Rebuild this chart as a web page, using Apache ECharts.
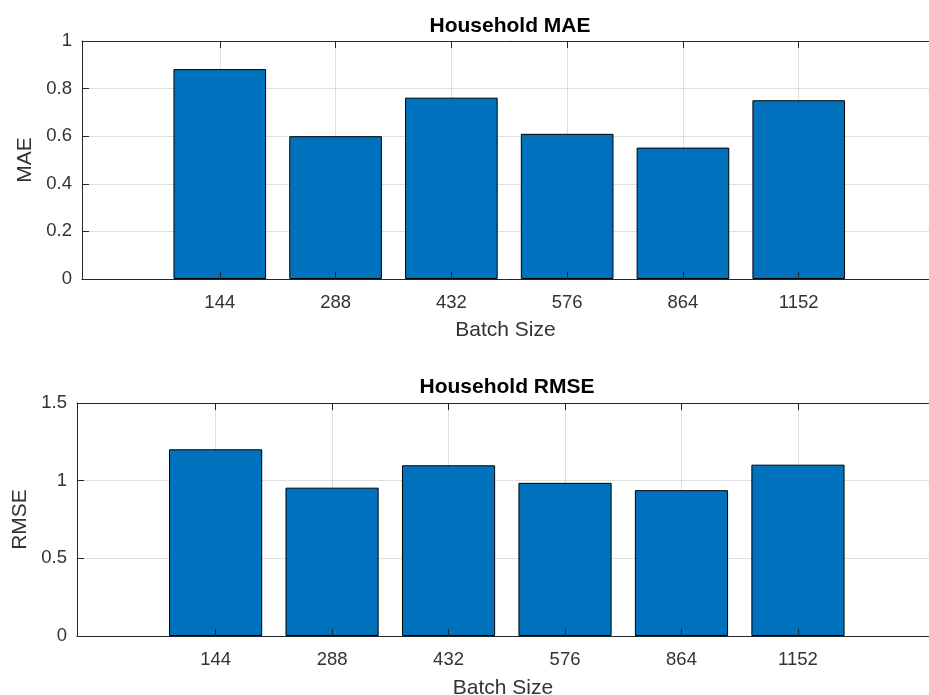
<!DOCTYPE html>
<html><head><meta charset="utf-8">
<script src="https://cdn.jsdelivr.net/npm/echarts@6/dist/echarts.min.js"></script>
<style>html,body{margin:0;padding:0;background:#fff}#c{width:929px;height:695px}</style>
</head><body><div id="c"></div>
<script>
// ---- data ----
const batchSizes = ['144', '288', '432', '576', '864', '1152'];
const barPositions = [1, 2, 3, 4, 5, 6];
const maeValues = [0.882, 0.600, 0.762, 0.610, 0.552, 0.751];
const rmseValues = [1.202, 0.955, 1.099, 0.986, 0.939, 1.103];
const maeAxis = { min: 0, max: 1, interval: 0.2 };
const rmseAxis = { min: 0, max: 1.5, interval: 0.5 };
const titles = ['Household MAE', 'Household RMSE'];
const yNames = ['MAE', 'RMSE'];
const xName = 'Batch Size';

// ---- style ----
const FONT = "'Liberation Sans', Arial, Helvetica, sans-serif";
const AXC = '#262626';
const TXC = '#333333';
const GRIDC = 'rgba(38,38,38,0.15)';
const XMIN = -0.19, XMAX = 7.125;

const chart = echarts.init(document.getElementById('c'), null, { renderer: 'canvas' });

function xAxesFor(gi, margin, gap) {
  const base = { type: 'value', gridIndex: gi, min: XMIN, max: XMAX };
  const lbl = v => batchSizes[barPositions.indexOf(v)];
  return [
    Object.assign({}, base, {
      position: 'bottom', z: 0,
      name: xName, nameLocation: 'middle', nameGap: gap,
      nameTextStyle: { fontFamily: FONT, fontSize: 21, color: TXC },
      axisLine: { show: false },
      axisTick: { show: false, customValues: barPositions },
      axisLabel: { customValues: barPositions, formatter: lbl, margin: margin, fontFamily: FONT, fontSize: 18.5, color: TXC },
      splitLine: { show: true, lineStyle: { color: GRIDC, width: 1 } }
    }),
    Object.assign({}, base, {
      position: 'bottom', z: 10,
      axisLine: { show: true, onZero: false, lineStyle: { color: AXC, width: 1 } },
      axisTick: { show: true, inside: true, length: 7, customValues: barPositions, lineStyle: { color: AXC } },
      axisLabel: { show: false },
      splitLine: { show: false }
    }),
    Object.assign({}, base, {
      position: 'top', z: 10,
      axisLine: { show: true, onZero: false, lineStyle: { color: AXC, width: 1 } },
      axisTick: { show: true, inside: true, length: 7, customValues: barPositions, lineStyle: { color: AXC } },
      axisLabel: { show: false },
      splitLine: { show: false }
    })
  ];
}

function yAxisFor(gi, rng, name) {
  return {
    type: 'value', gridIndex: gi, min: rng.min, max: rng.max, interval: rng.interval,
    name: name, nameLocation: 'middle', nameGap: 43,
    nameTextStyle: { fontFamily: FONT, fontSize: 21, color: TXC },
    axisLine: { show: true, onZero: false, lineStyle: { color: AXC, width: 1 } },
    axisTick: { show: true, inside: true, length: 7, lineStyle: { color: AXC } },
    axisLabel: { margin: 10, fontFamily: FONT, fontSize: 18.5, color: TXC },
    splitLine: { show: true, lineStyle: { color: GRIDC, width: 1 } }
  };
}

const option = {
  animation: false,
  backgroundColor: '#ffffff',
  grid: [
    { left: 82, top: 41, right: 0, bottom: 416, containLabel: false, outerBoundsMode: 'none' },
    { left: 77, top: 403, right: 0, bottom: 59, containLabel: false, outerBoundsMode: 'none' }
  ],
  xAxis: [].concat(xAxesFor(0, 14, 41), xAxesFor(1, 14, 42)),
  yAxis: [yAxisFor(0, maeAxis, yNames[0]), yAxisFor(1, rmseAxis, yNames[1])],
  series: [
    {
      type: 'bar', xAxisIndex: 0, yAxisIndex: 0, z: 2,
      data: barPositions.map((p, i) => [p, maeValues[i]]),
      barWidth: '80%',
      itemStyle: { color: '#0072BD', borderColor: '#000000', borderWidth: 1 },
      emphasis: { disabled: true }
    },
    {
      type: 'bar', xAxisIndex: 3, yAxisIndex: 1, z: 2,
      data: barPositions.map((p, i) => [p, rmseValues[i]]),
      barWidth: '80%',
      itemStyle: { color: '#0072BD', borderColor: '#000000', borderWidth: 1 },
      emphasis: { disabled: true }
    }
  ],
  graphic: [
    { type: 'text', x: 510, y: 26, style: { text: titles[0], textAlign: 'center', textVerticalAlign: 'middle', fontFamily: FONT, fontSize: 21, fontWeight: 'bold', fill: '#000' } },
    { type: 'text', x: 507, y: 387, style: { text: titles[1], textAlign: 'center', textVerticalAlign: 'middle', fontFamily: FONT, fontSize: 21, fontWeight: 'bold', fill: '#000' } }
  ]
};
chart.setOption(option);
</script>
</body></html>
